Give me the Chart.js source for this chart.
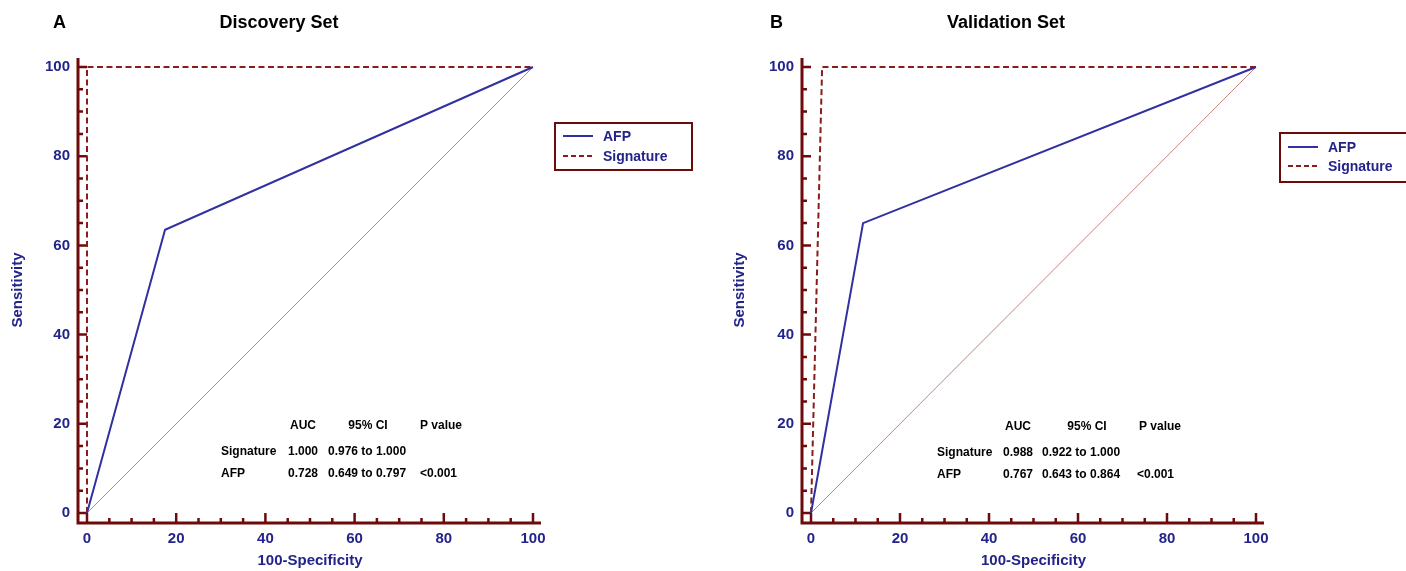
<!DOCTYPE html>
<html><head><meta charset="utf-8">
<script src="https://cdn.jsdelivr.net/npm/chart.js@4.4.0/dist/chart.umd.min.js"></script>
<style>
html,body{margin:0;padding:0;background:#fff;width:1406px;height:571px;overflow:hidden;position:relative}
canvas{position:absolute;top:0}
#cA{left:0}
#cB{left:722px}
</style></head><body>
<canvas id="cA" width="722" height="571"></canvas>
<canvas id="cB" width="684" height="571"></canvas>
<script>
// ---------- data ----------
const panelLetters = ['A', 'B'];
const panelTitles = ['Discovery Set', 'Validation Set'];
const xAxisTitle = '100-Specificity';
const yAxisTitle = 'Sensitivity';
const tickStep = 20;
const minorStep = 5;
const seriesNames = ['AFP', 'Signature'];

// Discovery set ROC points (100-Specificity, Sensitivity)
const discAfpX = [0, 17.5, 100];
const discAfpY = [0, 63.5, 100];
const discSigX = [0, 0, 100];
const discSigY = [0, 100, 100];
// Validation set ROC points
const valAfpX = [0, 11.7, 100];
const valAfpY = [0, 65, 100];
const valSigX = [0, 2.5, 100];
const valSigY = [0, 100, 100];
// reference diagonal
const diagX = [0, 100];
const diagY = [0, 100];

const tableHeader = ['AUC', '95% CI', 'P value'];
const discTable = [['Signature', '1.000', '0.976 to 1.000', ''], ['AFP', '0.728', '0.649 to 0.797', '<0.001']];
const valTable = [['Signature', '0.988', '0.922 to 1.000', ''], ['AFP', '0.767', '0.643 to 0.864', '<0.001']];

// ---------- styles ----------
const FONT = '"Liberation Sans", Arial, sans-serif';
const NAVY = '#23238c';
const AXIS = '#6e0a0a';
const AFP_COLOR = '#3030a0';
const SIG_COLOR = '#8b1c1c';
const DIAG_COLOR = '#c0857a';

function pts(xs, ys) { return xs.map((x, i) => ({x: x, y: ys[i]})); }

const decor = {
  id: 'rocDecor',
  beforeDatasetsDraw(chart, args, o) {
    const ctx = chart.ctx, xs = chart.scales.x, ys = chart.scales.y, ca = chart.chartArea;
    const axX = ca.left - 9, axY = ca.bottom + 10;
    ctx.save();
    ctx.strokeStyle = AXIS;
    ctx.lineCap = 'butt';
    ctx.lineWidth = 3;
    ctx.beginPath();
    ctx.moveTo(axX, axY + 1.5); ctx.lineTo(axX, ys.getPixelForValue(100) - 9);
    ctx.moveTo(axX - 1.5, axY); ctx.lineTo(xs.getPixelForValue(100) + 8, axY);
    ctx.stroke();
    ctx.lineWidth = 2.5;
    ctx.beginPath();
    for (let v = 0; v <= 100; v += minorStep) {
      const major = v % tickStep === 0;
      const py = ys.getPixelForValue(v);
      ctx.moveTo(axX, py); ctx.lineTo(axX + (major ? 9 : 5), py);
      const px = xs.getPixelForValue(v);
      ctx.moveTo(px, axY); ctx.lineTo(px, axY - (major ? 10 : 5));
    }
    ctx.stroke();
    ctx.restore();
  },
  afterDraw(chart, args, o) {
    const ctx = chart.ctx;
    ctx.save();
    // panel letter and title
    ctx.fillStyle = '#000';
    ctx.font = 'bold 18px ' + FONT;
    ctx.textBaseline = 'middle';
    ctx.textAlign = 'left';
    ctx.fillText(o.letter, o.letterX, 23);
    ctx.textAlign = 'center';
    ctx.fillText(o.title, o.titleX, 23);
    // legend
    const L = o.legend;
    ctx.strokeStyle = AXIS; ctx.lineWidth = 2;
    ctx.strokeRect(L.x, L.y, 137, L.h);
    const dsets = chart.data.datasets;
    [0, 1].forEach((k, i) => {
      const ds = dsets[k];
      const ry = L.rows[i];
      ctx.beginPath();
      ctx.strokeStyle = ds.borderColor; ctx.lineWidth = 2;
      ctx.setLineDash(k === 1 ? [5, 3] : []);
      ctx.moveTo(L.x + 8, ry); ctx.lineTo(L.x + 38, ry);
      ctx.stroke();
      ctx.setLineDash([]);
      ctx.fillStyle = NAVY;
      ctx.font = 'bold 14px ' + FONT;
      ctx.textAlign = 'left';
      ctx.fillText(ds.label, L.x + 48, ry + 1);
    });
    // table
    const T = o.table;
    ctx.fillStyle = '#000';
    ctx.font = 'bold 12px ' + FONT;
    ctx.textAlign = 'center';
    ctx.fillText(tableHeader[0], T.aucHead, T.rows[0]);
    ctx.fillText(tableHeader[1], T.ciHead, T.rows[0]);
    ctx.fillText(tableHeader[2], T.pHead, T.rows[0]);
    o.rowsData.forEach((r, i) => {
      const y = T.rows[i + 1];
      ctx.textAlign = 'left'; ctx.fillText(r[0], T.label, y);
      ctx.textAlign = 'right'; ctx.fillText(r[1], T.aucRight, y);
      ctx.textAlign = 'left'; ctx.fillText(r[2], T.ci, y);
      ctx.fillText(r[3], T.p, y);
    });
    ctx.restore();
  }
};

function makeChart(id, afpX, afpY, sigX, sigY, cfg) {
  new Chart(document.getElementById(id), {
    type: 'scatter',
    data: {
      datasets: [
        {label: seriesNames[0], data: pts(afpX, afpY), showLine: true, borderColor: AFP_COLOR, borderWidth: 2, pointRadius: 0, clip: false},
        {label: seriesNames[1], data: pts(sigX, sigY), showLine: true, borderColor: SIG_COLOR, borderWidth: 2, borderDash: [6, 3.5], pointRadius: 0, clip: false},
        {label: 'ref', data: pts(diagX, diagY), showLine: true, borderColor: DIAG_COLOR, borderWidth: 1, pointRadius: 0, clip: false}
      ]
    },
    options: {
      responsive: false,
      animation: false,
      devicePixelRatio: 1,
      layout: {padding: {left: 0, top: 67, right: cfg.right, bottom: 0}},
      plugins: {
        legend: {display: false},
        tooltip: {enabled: false},
        rocDecor: cfg.decor
      },
      scales: {
        x: {
          type: 'linear', min: 0, max: 100,
          afterFit: s => { s.height = 58; },
          grid: {display: false, drawTicks: false},
          border: {display: false},
          ticks: {stepSize: tickStep, color: NAVY, padding: 17, font: {family: FONT, size: 15, weight: 'bold'}, maxRotation: 0},
          title: {display: true, text: xAxisTitle, color: NAVY, padding: {top: 0, bottom: 1}, font: {family: FONT, size: 15, weight: 'bold'}}
        },
        y: {
          type: 'linear', min: 0, max: 100,
          afterFit: s => { s.width = cfg.left; },
          grid: {display: false, drawTicks: false},
          border: {display: false},
          ticks: {stepSize: tickStep, color: NAVY, padding: 17, font: {family: FONT, size: 15, weight: 'bold'}},
          title: {display: true, text: yAxisTitle, color: NAVY, padding: {top: 9, bottom: 0}, font: {family: FONT, size: 15, weight: 'bold'}}
        }
      }
    },
    plugins: [decor]
  });
}

makeChart('cA', discAfpX, discAfpY, discSigX, discSigY, {
  left: 87, right: 722 - 533,
  decor: {
    letter: panelLetters[0], letterX: 53, title: panelTitles[0], titleX: 279,
    legend: {x: 555, y: 123, h: 47, rows: [136, 156]},
    table: {rows: [426, 452, 474], label: 221, aucHead: 303, aucRight: 318, ciHead: 368, ci: 328, pHead: 441, p: 420},
    rowsData: discTable
  }
});
makeChart('cB', valAfpX, valAfpY, valSigX, valSigY, {
  left: 89, right: 684 - 534,
  decor: {
    letter: panelLetters[1], letterX: 48, title: panelTitles[1], titleX: 284,
    legend: {x: 558, y: 133, h: 49, rows: [147, 166]},
    table: {rows: [427, 453, 475], label: 215, aucHead: 296, aucRight: 311, ciHead: 365, ci: 320, pHead: 438, p: 415},
    rowsData: valTable
  }
});
</script>
</body></html>
